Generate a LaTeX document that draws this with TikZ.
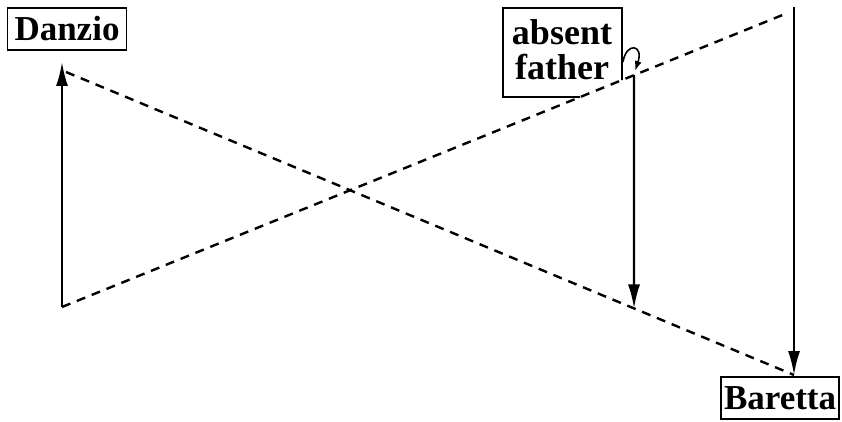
\documentclass[tikz,border=0pt]{standalone}
\usepackage{fontspec}
\setmainfont{Liberation Serif}
\usetikzlibrary{arrows.meta}
\begin{document}
\begin{tikzpicture}[x=1pt,y=-1pt,
  namebox/.style={draw, line width=1.8pt, inner xsep=3pt, inner ysep=0pt, font=\fontsize{35}{37}\selectfont\bfseries},
  solidarrow/.style={line width=2.2pt, -{Latex[length=24pt,width=12pt]}},
  dashline/.style={line width=2.4pt, dash pattern=on 9pt off 7pt}]
\useasboundingbox (0,0) rectangle (842,422);
\fill[white] (0,0) rectangle (842,422);
% boxes
\node[namebox, minimum width=119pt, minimum height=42pt] (danzio) at (67,29) {Danzio};
\node[namebox, minimum height=42pt, anchor=south east] (baretta) at (840,420) {Baretta};
\node[inner sep=0pt, align=center, font=\fontsize{36}{35}\selectfont\bfseries] (absent) at (562,50) {absent\\father};
% key points
\coordinate (dl) at (62,307);
\coordinate (dt) at (62,62);
\coordinate (ls) at (66,72);
\coordinate (bt) at (794,375);
\coordinate (tr) at (785,14);
\coordinate (rtop) at (794,7);
\coordinate (mx1) at (634,0);
\coordinate (mx2) at (634,422);
\coordinate (mtop) at (intersection of dl--tr and mx1--mx2);
\coordinate (mbot) at (intersection of ls--bt and mx1--mx2);
\coordinate (bx1) at (0,97);
\coordinate (bx2) at (842,97);
\coordinate (by1) at (622,0);
\coordinate (by2) at (622,422);
\coordinate (cutb) at (intersection of dl--tr and bx1--bx2);
\coordinate (cutr) at (intersection of dl--tr and by1--by2);
% absent father box (corner cut by the dashed line)
\draw[line width=1.8pt] (cutb) -- (503,97) -- (503,8) -- (622,8) -- (cutr);
% connectors
\draw[solidarrow] (dl) -- (dt);
\draw[solidarrow] (rtop) -- (bt);
\draw[solidarrow] (mtop) -- (mbot);
\draw[dashline] (ls) -- (bt);
\draw[dashline] (dl) -- (tr);
\draw[line width=1.6pt, -{Latex[length=10pt,width=7pt]}] (623,62) .. controls (626,42) and (644,44) .. (635,71);
\end{tikzpicture}
\end{document}
